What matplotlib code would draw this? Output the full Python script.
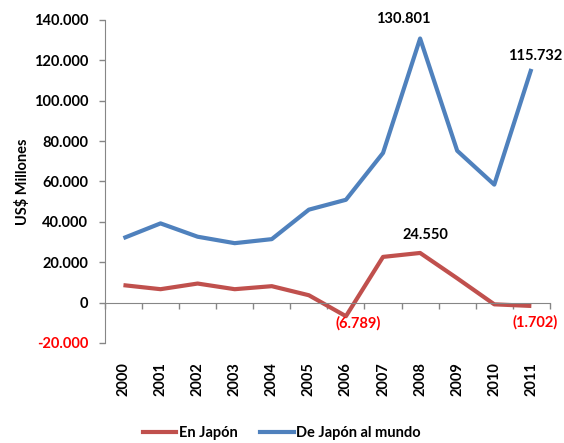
import matplotlib.pyplot as plt
from matplotlib.lines import Line2D

plt.rcParams['font.family'] = ['Lato', 'DejaVu Sans']

years = ['2000', '2001', '2002', '2003', '2004', '2005',
         '2006', '2007', '2008', '2009', '2010', '2011']
en_japon = [8600, 6600, 9400, 6600, 8100, 3600,
            -6789, 22600, 24550, 12000, -900, -1702]
de_japon = [31900, 39200, 32600, 29400, 31400, 46000,
            50900, 74100, 130801, 75200, 58400, 115732]
y_ticks = [-20000, 0, 20000, 40000, 60000, 80000, 100000, 120000, 140000]

red = '#C0504D'
blue = '#4F81BD'
axis_col = '#868686'
fs = 10.5


def fmt(v):
    s = '{:,.0f}'.format(abs(v)).replace(',', '.')
    return '-' + s if v < 0 else s


fig = plt.figure(figsize=(5.64, 4.43), dpi=100)
ax = fig.add_axes([0.186, 0.226, 0.789, 0.729])

x = list(range(len(years)))
ax.plot(x, en_japon, color=red, lw=3, solid_capstyle='butt')
ax.plot(x, de_japon, color=blue, lw=3, solid_capstyle='butt')

ax.set_xlim(-0.5, len(years) - 0.5)
ax.set_ylim(-20000, 140000)

# y axis
ax.set_yticks(y_ticks)
ax.set_yticklabels([fmt(v) for v in y_ticks], fontsize=fs, fontweight='bold')
for lbl, v in zip(ax.get_yticklabels(), y_ticks):
    lbl.set_color('red' if v < 0 else 'black')
ax.tick_params(axis='y', length=4, width=1, color=axis_col, pad=8)
ax.set_ylabel('US$ Millones', fontsize=fs, fontweight='bold', labelpad=3)

# zero line with tick marks between categories
ax.spines['bottom'].set_position(('data', 0))
ax.spines['bottom'].set_color(axis_col)
ax.spines['left'].set_color(axis_col)
ax.spines['top'].set_visible(False)
ax.spines['right'].set_visible(False)
ax.set_xticks([i - 0.5 for i in range(len(years) + 1)])
ax.set_xticklabels([])
ax.tick_params(axis='x', length=4, width=1, color=axis_col, direction='out')

# year labels below the plot area
for i, yname in enumerate(years):
    ax.text(i, -0.06, yname, transform=ax.get_xaxis_transform(),
            rotation=90, ha='center', va='top', fontsize=fs, fontweight='bold')

# data labels
ax.annotate(fmt(de_japon[8]), (8, de_japon[8]), xytext=(-12, 14),
            textcoords='offset points', ha='center', va='center',
            fontsize=fs, fontweight='bold')
ax.annotate(fmt(de_japon[11]), (11, de_japon[11]), xytext=(3, 9),
            textcoords='offset points', ha='center', va='center',
            fontsize=fs, fontweight='bold')
ax.annotate(fmt(en_japon[8]), (8, en_japon[8]), xytext=(4, 13),
            textcoords='offset points', ha='center', va='center',
            fontsize=fs, fontweight='bold')
ax.annotate('(' + fmt(-en_japon[6]) + ')', (6, en_japon[6]), xytext=(9, -5),
            textcoords='offset points', ha='center', va='center',
            fontsize=fs, fontweight='bold', color='red')
ax.annotate('(' + fmt(-en_japon[11]) + ')', (11, en_japon[11]), xytext=(3, -12),
            textcoords='offset points', ha='center', va='center',
            fontsize=fs, fontweight='bold', color='red')

handles = [Line2D([], [], color=red, lw=3), Line2D([], [], color=blue, lw=3)]
fig.legend(handles, ['En Japón', 'De Japón al mundo'], loc='center',
           bbox_to_anchor=(0.5, 0.023), ncol=2, frameon=False,
           prop={'size': fs, 'weight': 'bold'},
           handlelength=2.3, handletextpad=0.2, columnspacing=1.5)

fig.savefig('out.png', dpi=100)
